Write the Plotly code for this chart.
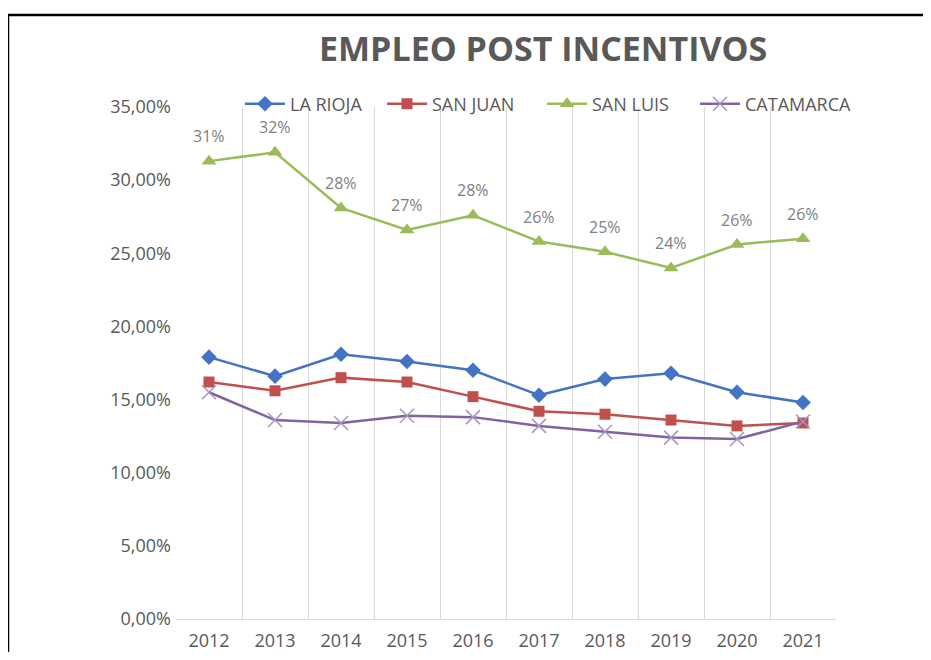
import plotly.graph_objects as go

years = ["2012", "2013", "2014", "2015", "2016", "2017", "2018", "2019", "2020", "2021"]
la_rioja = [0.179, 0.166, 0.181, 0.176, 0.170, 0.153, 0.164, 0.168, 0.155, 0.148]
san_juan = [0.162, 0.156, 0.165, 0.162, 0.152, 0.142, 0.140, 0.136, 0.132, 0.134]
san_luis = [0.313, 0.319, 0.281, 0.266, 0.276, 0.258, 0.251, 0.240, 0.256, 0.260]
catamarca = [0.155, 0.136, 0.134, 0.139, 0.138, 0.132, 0.128, 0.124, 0.123, 0.135]
y_ticks = [0, 0.05, 0.10, 0.15, 0.20, 0.25, 0.30, 0.35]

# page is 931x660 with the default 8px body margin around the figure
OFF = 8
W, H = 931 - 2 * OFF, 660 - 2 * OFF
PL, PR, PT, PB = 176, 836, 107, 619  # plot area in page pixels
L, R, T, B = PL - OFF, (W + OFF) - PR, PT - OFF, (H + OFF) - PB
pw, ph = W - L - R, H - T - B

def px_x(x):
    return (x - PL) / pw

def px_y(y):
    return (PB - y) / ph

FONT = "Open Sans"
GRAY = "#595959"

fig = go.Figure()
fig.add_trace(go.Scatter(x=years, y=la_rioja, name="LA RIOJA", mode="lines+markers",
                         legend="legend",
                         line=dict(color="#4472C4", width=2.5),
                         marker=dict(symbol="diamond", size=12, color="#4472C4")))
fig.add_trace(go.Scatter(x=years, y=san_juan, name="SAN JUAN", mode="lines+markers",
                         legend="legend2",
                         line=dict(color="#C0504D", width=2.5),
                         marker=dict(symbol="square", size=11, color="#C0504D")))
fig.add_trace(go.Scatter(x=years, y=san_luis, name="SAN LUIS", mode="lines+markers",
                         legend="legend3",
                         line=dict(color="#9BBB59", width=2.5),
                         marker=dict(symbol="triangle-up", size=13, color="#9BBB59")))
fig.add_trace(go.Scatter(x=years, y=catamarca, name="CATAMARCA", mode="lines+markers",
                         legend="legend4",
                         line=dict(color="#8064A2", width=2.5),
                         marker=dict(symbol="x-thin", size=14, color="#8064A2",
                                     line=dict(color="#A795C0", width=1.5))))

for i, yv in enumerate(san_luis):
    fig.add_annotation(x=i, y=yv, text=f"{round(yv * 100):d}%", showarrow=False,
                       yshift=25, font=dict(family=FONT, size=16, color="#7F7F7F"))

fig.add_annotation(xref="paper", yref="paper", x=px_x(543), y=px_y(48),
                   text="<b>EMPLEO POST INCENTIVOS</b>", showarrow=False,
                   xanchor="center", yanchor="middle",
                   font=dict(family=FONT, size=34, color=GRAY))

# frame lines (left and top)
fig.add_shape(type="line", xref="paper", yref="paper",
              x0=px_x(8), x1=px_x(8), y0=px_y(14), y1=px_y(700),
              line=dict(color="black", width=2.5))
fig.add_shape(type="line", xref="paper", yref="paper",
              x0=px_x(7), x1=px_x(960), y0=px_y(15), y1=px_y(15),
              line=dict(color="black", width=2.5))

def leg(xpx):
    return dict(orientation="h", x=px_x(xpx), y=px_y(104), xanchor="left", yanchor="middle",
                font=dict(family=FONT, size=18, color=GRAY), bgcolor="rgba(0,0,0,0)",
                itemwidth=40)

fig.update_layout(
    width=W, height=H,
    margin=dict(l=L, r=R, t=T, b=B, autoexpand=False),
    paper_bgcolor="white", plot_bgcolor="white",
    separators=",.",
    font=dict(family=FONT, size=18, color=GRAY),
    showlegend=True,
    legend=leg(240), legend2=leg(382), legend3=leg(542), legend4=leg(695),
    xaxis=dict(type="category", range=[-0.5, 9.5], tickson="boundaries", showgrid=True,
               gridcolor="#D9D9D9", gridwidth=1, showline=True, linecolor="#D9D9D9",
               linewidth=1, ticks="", tickangle=0, ticklabelstandoff=5, automargin=False,
               tickfont=dict(family=FONT, size=18, color=GRAY), fixedrange=True),
    yaxis=dict(range=[0, 0.35], tickvals=y_ticks, tickformat=".2%", showgrid=False,
               zeroline=False, showline=False, ticks="", ticklabelstandoff=4, automargin=False,
               tickfont=dict(family=FONT, size=18, color=GRAY), fixedrange=True),
)

fig.write_html("out.html")
